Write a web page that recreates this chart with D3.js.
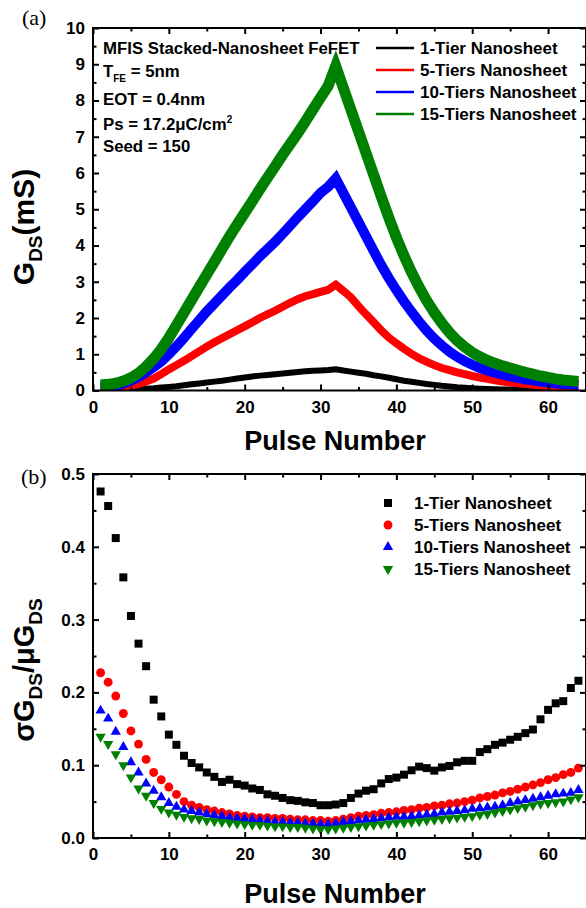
<!DOCTYPE html>
<html>
<head>
<meta charset="utf-8">
<script src="https://cdn.jsdelivr.net/npm/d3@7"></script>
<style>
  body { margin: 0; background: #fff; }
  text { font-family: "Liberation Sans", Arial, sans-serif; }
</style>
</head>
<body>
<svg id="chart" width="586" height="908"></svg>
<script>
// ---- data -------------------------------------------------------------
const pulses = d3.range(1, 65);

const seriesNames = ["1-Tier Nanosheet", "5-Tiers Nanosheet", "10-Tiers Nanosheet", "15-Tiers Nanosheet"];
const seriesColors = ["#000000", "#ff0000", "#0000ff", "#008000"];

// mean conductance G_DS (mS) per pulse, potentiation 1-32 then depression 33-64
const gds1Tier = [0.005, 0.008, 0.012, 0.018, 0.025, 0.035, 0.047, 0.06, 0.08, 0.1,
  0.12, 0.145, 0.17, 0.195, 0.22, 0.245, 0.27, 0.3, 0.33, 0.36,
  0.385, 0.41, 0.43, 0.45, 0.47, 0.49, 0.51, 0.53, 0.545, 0.555,
  0.565, 0.585, 0.55, 0.52, 0.49, 0.46, 0.42, 0.39, 0.35, 0.31,
  0.27, 0.24, 0.21, 0.18, 0.155, 0.13, 0.11, 0.09, 0.075, 0.06,
  0.05, 0.042, 0.035, 0.03, 0.025, 0.021, 0.018, 0.015, 0.013, 0.011,
  0.01, 0.009, 0.008, 0.007];
const gds5Tier = [0.03, 0.04, 0.06, 0.09, 0.13, 0.18, 0.25, 0.33, 0.45, 0.58,
  0.7, 0.82, 0.95, 1.08, 1.21, 1.33, 1.44, 1.55, 1.66, 1.77,
  1.88, 2.0, 2.1, 2.2, 2.31, 2.42, 2.52, 2.6, 2.66, 2.72,
  2.78, 2.92, 2.75, 2.57, 2.33, 2.1, 1.88, 1.66, 1.46, 1.3,
  1.15, 1.01, 0.89, 0.79, 0.7, 0.62, 0.56, 0.5, 0.45, 0.4,
  0.36, 0.32, 0.28, 0.25, 0.22, 0.2, 0.18, 0.16, 0.14, 0.13,
  0.12, 0.11, 0.1, 0.09];
const gds10Tier = [0.07, 0.09, 0.13, 0.19, 0.27, 0.37, 0.5, 0.64, 0.8, 1.0,
  1.22, 1.45, 1.7, 1.94, 2.18, 2.4, 2.62, 2.84, 3.05, 3.27,
  3.48, 3.7, 3.9, 4.1, 4.32, 4.55, 4.78, 5.0, 5.22, 5.45,
  5.62, 5.85, 5.45, 5.05, 4.65, 4.25, 3.85, 3.46, 3.1, 2.77,
  2.46, 2.17, 1.9, 1.65, 1.43, 1.24, 1.07, 0.93, 0.81, 0.71,
  0.62, 0.55, 0.49, 0.44, 0.39, 0.35, 0.31, 0.28, 0.25, 0.22,
  0.2, 0.18, 0.17, 0.15];
const gds15Tier = [0.15, 0.17, 0.2, 0.26, 0.35, 0.48, 0.66, 0.88, 1.14, 1.45,
  1.8, 2.15, 2.5, 2.85, 3.2, 3.55, 3.9, 4.25, 4.58, 4.9,
  5.22, 5.55, 5.87, 6.18, 6.5, 6.8, 7.1, 7.42, 7.75, 8.08,
  8.4, 8.95, 8.35, 7.75, 7.15, 6.55, 5.95, 5.35, 4.77, 4.22,
  3.72, 3.26, 2.85, 2.48, 2.15, 1.86, 1.6, 1.38, 1.2, 1.05,
  0.93, 0.83, 0.75, 0.68, 0.62, 0.56, 0.5, 0.45, 0.4, 0.36,
  0.32, 0.29, 0.27, 0.25];

// relative variation sigma/mu of G_DS per pulse
const cv1Tier = [0.476, 0.456, 0.412, 0.358, 0.305, 0.267, 0.236, 0.19, 0.167, 0.142,
  0.128, 0.113, 0.103, 0.097, 0.09, 0.084, 0.077, 0.08, 0.074, 0.072,
  0.068, 0.066, 0.06, 0.058, 0.055, 0.052, 0.051, 0.049, 0.048, 0.045,
  0.045, 0.046, 0.048, 0.055, 0.061, 0.065, 0.067, 0.075, 0.081, 0.083,
  0.087, 0.093, 0.098, 0.096, 0.0925, 0.097, 0.099, 0.104, 0.106, 0.106,
  0.118, 0.122, 0.128, 0.131, 0.135, 0.139, 0.144, 0.149, 0.163, 0.176,
  0.185, 0.188, 0.206, 0.216];
const cv5Tier = [0.227, 0.214, 0.195, 0.171, 0.147, 0.129, 0.108, 0.09, 0.08, 0.07,
  0.06, 0.05, 0.045, 0.042, 0.039, 0.037, 0.035, 0.033, 0.031, 0.03,
  0.029, 0.028, 0.028, 0.027, 0.027, 0.026, 0.025, 0.025, 0.024, 0.024,
  0.023, 0.024, 0.026, 0.028, 0.03, 0.031, 0.032, 0.034, 0.035, 0.036,
  0.038, 0.039, 0.041, 0.042, 0.044, 0.045, 0.047, 0.048, 0.05, 0.052,
  0.055, 0.057, 0.059, 0.062, 0.064, 0.067, 0.07, 0.073, 0.076, 0.08,
  0.083, 0.087, 0.09, 0.096];
const cv10Tier = [0.175, 0.164, 0.146, 0.125, 0.104, 0.09, 0.075, 0.065, 0.056, 0.048,
  0.043, 0.039, 0.037, 0.035, 0.033, 0.031, 0.03, 0.028, 0.027, 0.026,
  0.025, 0.024, 0.023, 0.022, 0.022, 0.021, 0.021, 0.02, 0.02, 0.019,
  0.019, 0.02, 0.022, 0.023, 0.024, 0.025, 0.026, 0.027, 0.028, 0.029,
  0.029, 0.03, 0.031, 0.032, 0.033, 0.035, 0.036, 0.037, 0.038, 0.04,
  0.041, 0.042, 0.043, 0.045, 0.048, 0.05, 0.052, 0.054, 0.056, 0.058,
  0.06, 0.061, 0.062, 0.066];
const cv15Tier = [0.139, 0.129, 0.115, 0.1, 0.083, 0.068, 0.058, 0.048, 0.04, 0.035,
  0.032, 0.029, 0.027, 0.026, 0.024, 0.023, 0.022, 0.021, 0.02, 0.019,
  0.018, 0.018, 0.017, 0.016, 0.016, 0.015, 0.015, 0.014, 0.013, 0.012,
  0.012, 0.013, 0.014, 0.015, 0.016, 0.017, 0.018, 0.019, 0.02, 0.021,
  0.021, 0.022, 0.023, 0.024, 0.025, 0.026, 0.027, 0.028, 0.029, 0.03,
  0.032, 0.033, 0.035, 0.037, 0.039, 0.041, 0.043, 0.045, 0.047, 0.048,
  0.049, 0.05, 0.053, 0.056];

const xTicks = [0, 10, 20, 30, 40, 50, 60];
const gdsTicks = [0, 1, 2, 3, 4, 5, 6, 7, 8, 9, 10];
const cvTicks = [0, 0.1, 0.2, 0.3, 0.4, 0.5];

// ---- layout -----------------------------------------------------------
const svg = d3.select("#chart");
const L = 93, R = 586;
const topA = 28, botA = 390.5;
const topB = 474, botB = 838;

const x = d3.scaleLinear().domain([0, 65]).range([L, R]);
const yA = d3.scaleLinear().domain([0, 10]).range([botA, topA]);
const yB = d3.scaleLinear().domain([0, 0.5]).range([botB, topB]);

const gdsSeries = [gds1Tier, gds5Tier, gds10Tier, gds15Tier];
const cvSeries = [cv1Tier, cv5Tier, cv10Tier, cv15Tier];

function frame(y, top, bot, majorY, minorY, fmt) {
  const g = svg.append("g");
  const minorX = d3.range(5, 65, 10);
  const styleTicks = sel => {
    sel.select(".domain").remove();
    sel.selectAll(".tick line").attr("stroke", "#000").attr("stroke-width", 2);
  };
  const styleLabels = sel => sel.selectAll("text")
    .attr("font-size", 17).attr("font-weight", "bold").attr("fill", "#000");
  // bottom (labelled) and top
  g.append("g").attr("transform", `translate(0,${bot})`)
    .call(d3.axisBottom(x).tickValues(xTicks).tickSize(-6).tickPadding(10).tickFormat(d3.format("d")))
    .call(styleTicks).call(styleLabels);
  g.append("g").attr("transform", `translate(0,${bot})`)
    .call(d3.axisBottom(x).tickValues(minorX).tickSize(-3.5).tickFormat(""))
    .call(styleTicks);
  g.append("g").attr("transform", `translate(0,${top})`)
    .call(d3.axisTop(x).tickValues(xTicks).tickSize(-6).tickFormat(""))
    .call(styleTicks);
  g.append("g").attr("transform", `translate(0,${top})`)
    .call(d3.axisTop(x).tickValues(minorX).tickSize(-3.5).tickFormat(""))
    .call(styleTicks);
  // left (labelled) and right
  g.append("g").attr("transform", `translate(${L},0)`)
    .call(d3.axisLeft(y).tickValues(majorY).tickSize(-6).tickPadding(8).tickFormat(fmt))
    .call(styleTicks).call(styleLabels);
  g.append("g").attr("transform", `translate(${L},0)`)
    .call(d3.axisLeft(y).tickValues(minorY).tickSize(-3.5).tickFormat(""))
    .call(styleTicks);
  g.append("g").attr("transform", `translate(${R},0)`)
    .call(d3.axisRight(y).tickValues(majorY).tickSize(-6).tickFormat(""))
    .call(styleTicks);
  g.append("g").attr("transform", `translate(${R},0)`)
    .call(d3.axisRight(y).tickValues(minorY).tickSize(-3.5).tickFormat(""))
    .call(styleTicks);
  g.append("rect").attr("x", L).attr("y", top).attr("width", R - L).attr("height", bot - top)
    .attr("fill", "none").attr("stroke", "#000").attr("stroke-width", 2);
}

// ---- panel (a): conductance --------------------------------------------
svg.append("clipPath").attr("id", "clipA")
  .append("rect").attr("x", L).attr("y", topA).attr("width", R - L).attr("height", botA - topA);

const line = d3.line().x((d, i) => x(pulses[i])).y(d => yA(d));
const bandWidths = [6, 8, 10, 11];
const gA = svg.append("g").attr("clip-path", "url(#clipA)");
gdsSeries.forEach((s, k) => {
  gA.append("path").attr("d", line(s)).attr("fill", "none")
    .attr("stroke", seriesColors[k]).attr("stroke-width", bandWidths[k])
    .attr("stroke-linejoin", "miter").attr("stroke-miterlimit", 10);
});

frame(yA, topA, botA, gdsTicks, d3.range(0.5, 10, 1), d3.format("d"));

// device parameters block
const info = svg.append("g").attr("font-weight", "bold").attr("font-size", 16.8).attr("fill", "#000");
info.append("text").attr("x", 103).attr("y", 53.5).text("MFIS Stacked-Nanosheet FeFET");
{
  const t = info.append("text").attr("x", 103).attr("y", 76.5);
  t.append("tspan").text("T");
  t.append("tspan").attr("font-size", 10).attr("dy", 5).text("FE");
  t.append("tspan").attr("dy", -5).text(" = 5nm");
}
info.append("text").attr("x", 103).attr("y", 104.5).text("EOT = 0.4nm");
{
  const t = info.append("text").attr("x", 103).attr("y", 130);
  t.append("tspan").text("Ps = 17.2\u03BCC/cm");
  t.append("tspan").attr("font-size", 10).attr("dy", -7).text("2");
}
info.append("text").attr("x", 103).attr("y", 152).text("Seed = 150");

// legend (a)
const legA = svg.append("g");
seriesNames.forEach((name, k) => {
  const yb = 54 + k * 22;
  legA.append("line").attr("x1", 376).attr("x2", 414).attr("y1", yb - 6).attr("y2", yb - 6)
    .attr("stroke", seriesColors[k]).attr("stroke-width", 2.5);
  legA.append("text").attr("x", 420).attr("y", yb).attr("font-size", 17).attr("font-weight", "bold").text(name);
});

// axis titles (a)
svg.append("text").attr("x", 335).attr("y", 450).attr("text-anchor", "middle")
  .attr("font-size", 27).attr("font-weight", "bold").text("Pulse Number");
{
  const t = svg.append("text").attr("transform", "translate(34,227) rotate(-90)")
    .attr("text-anchor", "middle").attr("font-size", 30).attr("font-weight", "bold");
  t.append("tspan").text("G");
  t.append("tspan").attr("font-size", 19).attr("dy", 8).text("DS");
  t.append("tspan").attr("dy", -8).text("(mS)");
}
svg.append("text").attr("x", 22).attr("y", 25)
  .attr("font-size", 22).style("font-family", "'Liberation Serif', 'Times New Roman', serif").text("(a)");

// ---- panel (b): variation ---------------------------------------------
const symbols = [
  d3.symbol().type(d3.symbolSquare).size(64),
  d3.symbol().type(d3.symbolCircle).size(62),
  d3.symbol().type(d3.symbolTriangle).size(46),
  d3.symbol().type(d3.symbolTriangle).size(46)
];
const rotations = [0, 0, 0, 180];

const gB = svg.append("g");
cvSeries.forEach((s, k) => {
  gB.append("g").selectAll("path").data(s).join("path")
    .attr("d", symbols[k]())
    .attr("transform", (d, i) => `translate(${x(pulses[i])},${yB(d)}) rotate(${rotations[k]})`)
    .attr("fill", seriesColors[k]);
});

frame(yB, topB, botB, cvTicks, d3.range(0.05, 0.5, 0.1), d3.format(".1f"));

// legend (b)
const legB = svg.append("g");
seriesNames.forEach((name, k) => {
  const yb = 509 + k * 22;
  legB.append("path").attr("d", symbols[k]())
    .attr("transform", `translate(388,${yb - 6}) rotate(${rotations[k]})`)
    .attr("fill", seriesColors[k]);
  legB.append("text").attr("x", 414).attr("y", yb).attr("font-size", 17).attr("font-weight", "bold").text(name);
});

// axis titles (b)
svg.append("text").attr("x", 335).attr("y", 903).attr("text-anchor", "middle")
  .attr("font-size", 27).attr("font-weight", "bold").text("Pulse Number");
{
  const t = svg.append("text").attr("transform", "translate(34,670) rotate(-90)")
    .attr("text-anchor", "middle").attr("font-size", 29).attr("font-weight", "bold");
  t.append("tspan").text("\u03C3G");
  t.append("tspan").attr("font-size", 19).attr("dy", 8).text("DS");
  t.append("tspan").attr("dy", -8).text("/\u03BCG");
  t.append("tspan").attr("font-size", 19).attr("dy", 8).text("DS");
}
svg.append("text").attr("x", 21).attr("y", 484)
  .attr("font-size", 22).style("font-family", "'Liberation Serif', 'Times New Roman', serif").text("(b)");
</script>
</body>
</html>
